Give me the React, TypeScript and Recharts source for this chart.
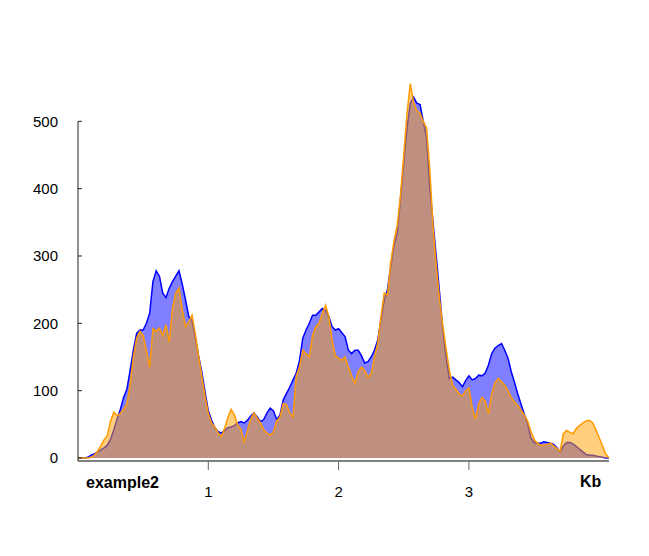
import React from 'react';
import { AreaChart, Area, XAxis, YAxis, ReferenceLine } from 'recharts';

// bin centres along the sequence, in Kb
const kb = [
  0, 0.025, 0.05, 0.075, 0.1, 0.125, 0.15, 0.175, 0.2, 0.225,
  0.25, 0.275, 0.3, 0.325, 0.35, 0.375, 0.4, 0.425, 0.45, 0.475,
  0.5, 0.525, 0.55, 0.575, 0.6, 0.625, 0.65, 0.675, 0.7, 0.725,
  0.75, 0.775, 0.8, 0.825, 0.85, 0.875, 0.9, 0.925, 0.95, 0.975,
  1, 1.025, 1.05, 1.075, 1.1, 1.125, 1.15, 1.175, 1.2, 1.225,
  1.25, 1.275, 1.3, 1.325, 1.35, 1.375, 1.4, 1.425, 1.45, 1.475,
  1.5, 1.525, 1.55, 1.575, 1.6, 1.625, 1.65, 1.675, 1.7, 1.725,
  1.75, 1.775, 1.8, 1.825, 1.85, 1.875, 1.9, 1.925, 1.95, 1.975,
  2, 2.025, 2.05, 2.075, 2.1, 2.125, 2.15, 2.175, 2.2, 2.225,
  2.25, 2.275, 2.3, 2.325, 2.35, 2.375, 2.4, 2.425, 2.45, 2.475,
  2.5, 2.525, 2.55, 2.575, 2.6, 2.625, 2.65, 2.675, 2.7, 2.725,
  2.75, 2.775, 2.8, 2.825, 2.85, 2.875, 2.9, 2.925, 2.95, 2.975,
  3, 3.025, 3.05, 3.075, 3.1, 3.125, 3.15, 3.175, 3.2, 3.225,
  3.25, 3.275, 3.3, 3.325, 3.35, 3.375, 3.4, 3.425, 3.45, 3.475,
  3.5, 3.525, 3.55, 3.575, 3.6, 3.625, 3.65, 3.675, 3.7, 3.725,
  3.75, 3.775, 3.8, 3.825, 3.85, 3.875, 3.9, 3.925, 3.95, 3.975,
  4, 4.025, 4.05, 4.075,
];

const blueCov = [
  0, 0, 0, 1, 4, 6, 9, 12, 15, 19,
  28, 42, 58, 72, 90, 102, 130, 160, 185, 190,
  190, 200, 215, 262, 278, 270, 245, 238, 252, 262,
  270, 278, 258, 235, 210, 204, 180, 152, 128, 98,
  70, 56, 45, 39, 37, 41, 45, 46, 48, 52,
  54, 52, 56, 62, 67, 61, 54, 57, 67, 74,
  70, 57, 64, 86, 96, 105, 116, 126, 145, 178,
  190, 200, 212, 212, 217, 222, 219, 210, 195, 190,
  192, 186, 180, 160, 155, 160, 160, 152, 141, 143,
  150, 160, 175, 205, 235, 250, 285, 315, 335, 385,
  440, 490, 527, 536, 527, 525, 500, 476, 402, 349,
  298, 245, 190, 150, 118, 120, 116, 112, 106, 115,
  122, 116, 118, 123, 122, 126, 138, 155, 163, 167,
  170, 160, 148, 128, 112, 95, 80, 65, 52, 30,
  23, 22, 22, 24, 23, 22, 20, 15, 9, 18,
  23, 23, 21, 17, 13, 9, 5, 4, 4, 3,
  2, 1, 0, 0,
];

const orangeCov = [
  0, 0, 0, 0, 1, 4, 10, 18, 27, 33,
  55, 68, 63, 66, 72, 80, 108, 150, 178, 188,
  182, 160, 135, 192, 188, 193, 182, 198, 172, 222,
  245, 252, 220, 195, 202, 212, 185, 152, 122, 92,
  66, 52, 46, 37, 32, 44, 60, 72, 64, 49,
  43, 24, 40, 58, 67, 59, 52, 42, 37, 34,
  39, 55, 61, 81, 79, 67, 61, 122, 135, 160,
  155, 150, 182, 195, 200, 215, 227, 210, 175, 152,
  148, 145, 150, 135, 122, 111, 128, 135, 130, 120,
  125, 150, 170, 210, 245, 242, 290, 322, 345, 390,
  450, 512, 556, 528, 516, 512, 500, 490, 427, 343,
  285, 235, 196, 162, 130, 108, 102, 95, 92, 100,
  104, 75, 58, 80, 90, 84, 66, 95, 112, 118,
  113, 108, 100, 90, 83, 78, 71, 64, 55, 40,
  28, 22, 19, 19, 20, 22, 18, 14, 10, 36,
  41, 38, 36, 44, 48, 52, 55, 56, 52, 42,
  30, 18, 6, 0,
];

const xTicks = [1, 2, 3];
const yTicks = [0, 100, 200, 300, 400, 500];

const data = kb.map((k, i) => ({ kb: k, blue: blueCov[i], orange: orangeCov[i] }));

const FONT = 'Arial, "Liberation Sans", sans-serif';

const YTick = (props: any) => {
  const { x, y, payload } = props;
  return (
    <g>
      <line x1={x + 20} x2={x + 24} y1={y} y2={y} stroke="#222" />
      <text x={x} y={y} dy="0.36em" textAnchor="end" fontSize={15} fontFamily={FONT} fill="#000">
        {payload.value}
      </text>
    </g>
  );
};

const labelStyle: React.CSSProperties = {
  position: 'absolute',
  fontFamily: FONT,
  fontWeight: 'bold',
  fontSize: 16,
  lineHeight: '16px',
  color: '#000',
};

export default function App() {
  return (
    <div style={{ position: 'relative', width: 641, height: 548 }}>
      <AreaChart width={641} height={548} data={data} margin={{ top: 46, right: 40, bottom: 65, left: 0 }}>
        <XAxis
          type="number"
          dataKey="kb"
          domain={[0, 4.075]}
          ticks={xTicks}
          height={30}
          tickSize={9}
          tickMargin={16}
          axisLine={{ stroke: '#000' }}
          tickLine={{ stroke: '#666' }}
          tick={{ fontSize: 15, fill: '#000', fontFamily: FONT }}
        />
        <YAxis
          type="number"
          domain={[-4.5, 600]}
          ticks={yTicks}
          width={70}
          tickSize={4}
          tickMargin={16}
          axisLine={false}
          tickLine={false}
          tick={<YTick />}
        />
        <ReferenceLine
          segment={[{ x: 0, y: -4.5 }, { x: 0, y: 500 }]}
          stroke="#222"
          ifOverflow="visible"
        />
        <Area
          type="linear"
          dataKey="blue"
          stroke="#0000ff"
          strokeWidth={1.5}
          fill="#0000ff"
          fillOpacity={0.5}
          baseValue={0}
          dot={false}
          activeDot={false}
          isAnimationActive={false}
        />
        <Area
          type="linear"
          dataKey="orange"
          stroke="#ff9a00"
          strokeWidth={1.5}
          fill="#ffa000"
          fillOpacity={0.5}
          baseValue={0}
          dot={false}
          activeDot={false}
          isAnimationActive={false}
        />
      </AreaChart>
      <span style={{ ...labelStyle, left: 78, top: 467 }}>example2</span>
      <span style={{ ...labelStyle, left: 572, top: 466 }}>Kb</span>
    </div>
  );
}
